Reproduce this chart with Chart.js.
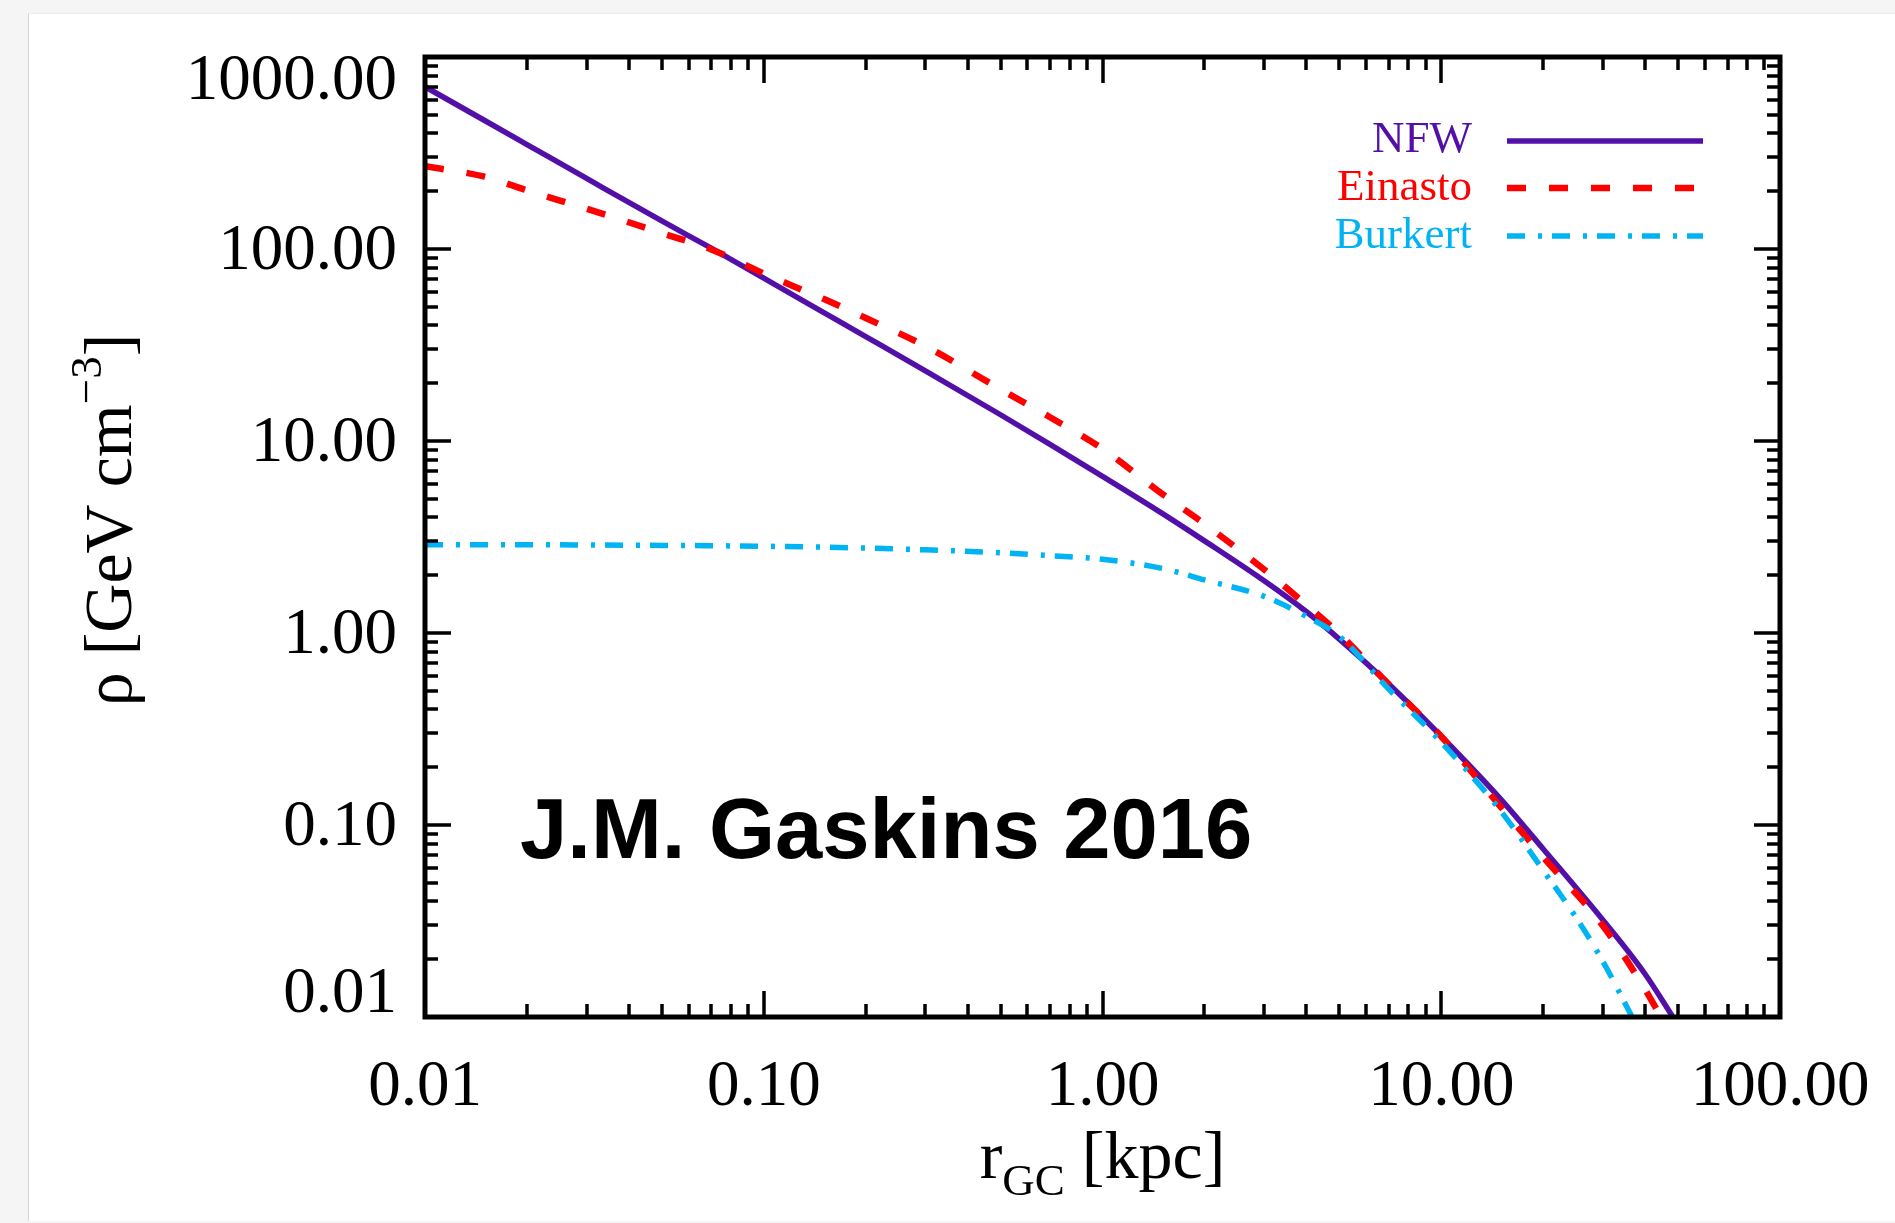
<!DOCTYPE html>
<html>
<head>
<meta charset="utf-8">
<script src="https://cdn.jsdelivr.net/npm/chart.js@4.4.1/dist/chart.umd.min.js"></script>
<style>
  html, body { margin: 0; padding: 0; width: 1895px; height: 1223px; overflow: hidden; background: #f5f5f5; }
  #panel { position: absolute; left: 28px; top: 13px; width: 1867px; height: 1208px; background: #ffffff;
           border-left: 1px solid #d4d4d4; border-top: 1px solid #ececec; box-sizing: border-box; }
  #wrap { position: absolute; left: 0; top: 0; width: 1895px; height: 1223px; }
</style>
</head>
<body>
<div id="panel"></div>
<div id="wrap"><canvas id="c" width="1895" height="1223"></canvas></div>
<script>
// ---------------- data ----------------
const nfwRadius = [0.01, 0.015, 0.02, 0.03, 0.05, 0.07, 0.1, 0.15, 0.2, 0.3, 0.5, 0.7, 1, 1.5, 2, 3, 4, 5, 7, 10, 15, 20, 30, 40, 48.3];
const nfwDensity = [700, 467, 350, 233, 140, 101, 70.5, 46.8, 35, 23.2, 13.7, 9.6, 6.55, 4.2, 3.02, 1.87, 1.29, 0.93, 0.543, 0.29, 0.136, 0.075, 0.032, 0.0167, 0.0100];

const einastoRadius = [0.01, 0.015, 0.02, 0.03, 0.05, 0.07, 0.1, 0.15, 0.2, 0.3, 0.5, 0.7, 1, 1.5, 2, 3, 4, 5, 7, 10, 15, 20, 30, 40, 44.5];
const einastoDensity = [270, 238, 202, 162, 121, 99.5, 74.5, 55, 43.7, 31.2, 18.6, 13.3, 9.1, 5.3, 3.7, 2.14, 1.4, 0.99, 0.54, 0.289, 0.124, 0.068, 0.0299, 0.0139, 0.0100];

const burkertRadius = [0.01, 0.02, 0.05, 0.1, 0.2, 0.3, 0.5, 0.7, 1, 1.5, 2, 3, 4, 5, 7, 10, 15, 20, 25, 30, 36.6];
const burkertDensity = [2.88, 2.88, 2.86, 2.83, 2.77, 2.71, 2.62, 2.53, 2.42, 2.17, 1.89, 1.55, 1.22, 0.96, 0.51, 0.27, 0.118, 0.058, 0.033, 0.0195, 0.0100];

const seriesNames = ['NFW', 'Einasto', 'Burkert'];

const xTickValues = [0.01, 0.1, 1, 10, 100];
const xTickLabels = ['0.01', '0.10', '1.00', '10.00', '100.00'];
const yTickValues = [0.01, 0.1, 1, 10, 100, 1000];
const yTickLabels = ['0.01', '0.10', '1.00', '10.00', '100.00', '1000.00'];

const annotationText = 'J.M. Gaskins 2016';

// ---------------- styles ----------------
const COLORS = ['#5210a8', '#ff0000', '#00b4f4'];
const SERIF = '"Liberation Serif", "Times New Roman", serif';

function pts(rs, vs) { return rs.map((r, i) => ({ x: r, y: vs[i] })); }

const framePlugin = {
  id: 'idlFrame',
  afterDatasetsDraw(chart) {
    const { ctx, chartArea: a, scales: { x, y } } = chart;
    ctx.save();
    ctx.strokeStyle = '#000';
    ctx.fillStyle = '#000';

    // tick marks (inside, mirrored on all four sides)
    function logTicks(min, max) {
      const out = [];
      const e0 = Math.round(Math.log10(min)), e1 = Math.round(Math.log10(max));
      for (let e = e0; e < e1; e++) {
        for (let m = 1; m < 10; m++) out.push({ v: m * Math.pow(10, e), major: m === 1 });
      }
      out.push({ v: max, major: true });
      return out;
    }
    ctx.lineWidth = 3.5;
    ctx.lineCap = 'butt';
    ctx.beginPath();
    for (const t of logTicks(x.min, x.max)) {
      const px = Math.round(x.getPixelForValue(t.v));
      const len = t.major ? 26 : 13;
      ctx.moveTo(px, a.bottom); ctx.lineTo(px, a.bottom - len);
      ctx.moveTo(px, a.top); ctx.lineTo(px, a.top + len);
    }
    for (const t of logTicks(y.min, y.max)) {
      const py = Math.round(y.getPixelForValue(t.v));
      const len = t.major ? 26 : 13;
      ctx.moveTo(a.left, py); ctx.lineTo(a.left + len, py);
      ctx.moveTo(a.right, py); ctx.lineTo(a.right - len, py);
    }
    ctx.stroke();

    // frame
    ctx.lineWidth = 5;
    ctx.strokeRect(a.left, a.top, a.right - a.left, a.bottom - a.top);

    // tick labels
    ctx.font = '65px ' + SERIF;
    ctx.textAlign = 'center';
    ctx.textBaseline = 'alphabetic';
    xTickValues.forEach((v, i) => {
      ctx.fillText(xTickLabels[i], x.getPixelForValue(v), a.bottom + 88);
    });
    ctx.textAlign = 'right';
    ctx.textBaseline = 'middle';
    yTickValues.forEach((v, i) => {
      let py = y.getPixelForValue(v) + 3;
      if (i === 0) py -= 25;
      if (i === yTickValues.length - 1) py += 22;
      ctx.fillText(yTickLabels[i], a.left - 28, py);
    });

    // x axis title: r_GC [kpc]
    ctx.textBaseline = 'alphabetic';
    ctx.textAlign = 'left';
    const big = '68px ' + SERIF, small = '45px ' + SERIF;
    ctx.font = big; const w1 = ctx.measureText('r').width;
    ctx.font = small; const w2 = ctx.measureText('GC').width;
    ctx.font = big; const w3 = ctx.measureText(' [kpc]').width;
    let sx = (a.left + a.right) / 2 - (w1 + w2 + w3) / 2;
    const by = a.bottom + 161;
    ctx.font = big; ctx.fillText('r', sx, by); sx += w1;
    ctx.font = small; ctx.fillText('GC', sx, by + 17); sx += w2;
    ctx.font = big; ctx.fillText(' [kpc]', sx, by);

    // y axis title: rho [GeV cm^-3]
    ctx.save();
    ctx.translate(131, 520);
    ctx.rotate(-Math.PI / 2);
    ctx.font = big; const v1 = ctx.measureText('\u03C1 [GeV cm').width;
    ctx.font = small; const v2 = ctx.measureText('\u22123').width;
    ctx.font = big; const v3 = ctx.measureText(']').width;
    let tx = -(v1 + v2 + v3) / 2;
    ctx.font = big; ctx.fillText('\u03C1 [GeV cm', tx, 0); tx += v1;
    ctx.font = small; ctx.fillText('\u22123', tx, -30); tx += v2;
    ctx.font = big; ctx.fillText(']', tx, 0);
    ctx.restore();

    // legend (text right aligned, line sample to the right)
    const labelRight = 1472, lineX0 = 1507, lineX1 = 1703;
    const baselines = [152, 200, 248];
    const lineYs = [141, 188, 236];
    ctx.font = '45px ' + SERIF;
    ctx.textAlign = 'right';
    chart.data.datasets.forEach((ds, i) => {
      ctx.fillStyle = ds.borderColor;
      ctx.fillText(ds.label, labelRight, baselines[i]);
      ctx.save();
      ctx.strokeStyle = ds.borderColor;
      ctx.lineWidth = ds.borderWidth;
      ctx.setLineDash(ds.borderDash || []);
      ctx.beginPath();
      ctx.moveTo(lineX0, lineYs[i]);
      ctx.lineTo(lineX1, lineYs[i]);
      ctx.stroke();
      ctx.restore();
    });

    // annotation
    ctx.fillStyle = '#000';
    ctx.textAlign = 'left';
    ctx.font = 'bold 85px "Liberation Sans", Arial, sans-serif';
    ctx.fillText(annotationText, 520, 858);

    ctx.restore();
  }
};

new Chart(document.getElementById('c'), {
  type: 'line',
  data: {
    datasets: [
      { label: seriesNames[0], data: pts(nfwRadius, nfwDensity), borderColor: COLORS[0], backgroundColor: COLORS[0],
        borderWidth: 5.5, pointRadius: 0, cubicInterpolationMode: 'monotone', fill: false, order: 3 },
      { label: seriesNames[1], data: pts(einastoRadius, einastoDensity), borderColor: COLORS[1], backgroundColor: COLORS[1],
        borderWidth: 6.5, borderDash: [19, 23], pointRadius: 0, cubicInterpolationMode: 'monotone', fill: false, order: 2 },
      { label: seriesNames[2], data: pts(burkertRadius, burkertDensity), borderColor: COLORS[2], backgroundColor: COLORS[2],
        borderWidth: 5.5, borderDash: [18, 13, 4, 10], pointRadius: 0, cubicInterpolationMode: 'monotone', fill: false, order: 1 }
    ]
  },
  options: {
    responsive: false,
    animation: false,
    devicePixelRatio: 1,
    layout: { padding: { left: 425, top: 57, right: 115, bottom: 206 } },
    plugins: { legend: { display: false }, tooltip: { enabled: false }, title: { display: false } },
    scales: {
      x: { type: 'logarithmic', min: 0.01, max: 100, display: false },
      y: { type: 'logarithmic', min: 0.01, max: 1000, display: false }
    }
  },
  plugins: [framePlugin]
});
</script>
</body>
</html>
